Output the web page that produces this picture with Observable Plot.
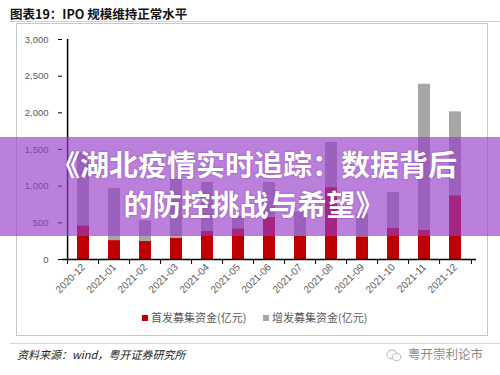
<!DOCTYPE html>
<html>
<head>
<meta charset="utf-8">
<script src="https://cdn.jsdelivr.net/npm/d3@7"></script>
<script src="https://cdn.jsdelivr.net/npm/@observablehq/plot@0.6"></script>
<style>
  html, body { margin: 0; padding: 0; background: #fff; }
  #page { position: relative; width: 500px; height: 375px; overflow: hidden; font-family: "Liberation Sans", Arial, "Noto Sans CJK SC", sans-serif; }
  #title { position: absolute; left: 10px; top: 5px; font-family: "Noto Sans CJK SC", sans-serif; font-weight: 700; font-size: 12.5px; color: #111; line-height: 18px; }
  #titleRule { position: absolute; left: 10px; top: 21px; width: 490px; height: 0; border-top: 1px solid #d0d0d0; }
  #box { position: absolute; left: 16px; top: 23px; width: 472px; height: 313px; border: 1px solid #c8c8c8; box-sizing: border-box; }
  #chart { position: absolute; left: 16px; top: 24px; }
  #legend { position: absolute; left: 0; top: 309px; width: 500px; font-family: "Noto Sans CJK SC", sans-serif; font-size: 11px; color: #595959; line-height: 16px; }
  .lg { position: absolute; top: 0; white-space: nowrap; }
  .sw { display: inline-block; width: 6px; height: 6px; margin-right: 3px; vertical-align: 1px; }
  #footRule { position: absolute; left: 10px; top: 343px; width: 490px; border-top: 1px solid #d6d6d6; }
  #source { position: absolute; left: 17px; top: 346px; font-family: "Noto Sans CJK SC", sans-serif; font-size: 11px; font-style: italic; color: #222; line-height: 16px; }
  #brand { position: absolute; left: 386px; top: 345px; font-family: "Noto Sans CJK SC", sans-serif; font-size: 12.5px; color: #8a8a8a; line-height: 18px; white-space: nowrap; }
  #brand svg { vertical-align: -3px; margin-right: 6px; }
  #overlay { position: absolute; left: 0; top: 137px; width: 500px; height: 99px; background: rgba(150, 60, 200, 0.65); }
  #overlayText { position: absolute; left: 4px; top: 143px; width: 500px; text-align: center; font-family: "Noto Sans CJK SC", sans-serif; font-weight: 700; font-size: 29px; line-height: 40px; color: #fff; text-shadow: 0 0 2px rgba(90, 20, 120, 0.5); }
</style>
</head>
<body>
<div id="page">
  <div id="title">图表19：IPO 规模维持正常水平</div>
  <div id="titleRule"></div>
  <div id="box"></div>
  <div id="chart"></div>
  <div id="legend"></div>
  <div id="footRule"></div>
  <div id="source">资料来源：wind，粤开证券研究所</div>
  <div id="brand"><svg width="16" height="13" viewBox="0 0 16 13"><ellipse cx="6" cy="5.5" rx="5.2" ry="4.3" fill="none" stroke="#b5b5b5" stroke-width="1"/><ellipse cx="10.5" cy="8" rx="4.3" ry="3.5" fill="#fff" stroke="#b5b5b5" stroke-width="1"/></svg>粤开崇利论市</div>
  <div id="overlay"></div>
  <div id="overlayText">《湖北疫情实时追踪：数据背后<br>的防控挑战与希望》</div>
</div>
<script>
// ---- data ----
const months = ["2020-12","2021-01","2021-02","2021-03","2021-04","2021-05","2021-06","2021-07","2021-08","2021-09","2021-10","2021-11","2021-12"];
const seriesNames = ["首发募集资金(亿元)", "增发募集资金(亿元)"];
const ipoValues = [460, 258, 245, 290, 385, 420, 575, 320, 980, 310, 430, 400, 870];
const spoValues = [1000, 712, 285, 810, 665, 170, 475, 330, 616, 310, 485, 1990, 1143];
const yTicks = [0, 500, 1000, 1500, 2000, 2500, 3000];

// ---- styles ----
const seriesColors = ["#c00000", "#a6a6a6"];
const W = 473, H = 290, mL = 46, mR = 13, mT = 15, mB = 55;
const step = (W - mL - mR) / months.length;

const rows = [
  ...months.map((m, i) => ({month: m, series: seriesNames[0], value: ipoValues[i]})),
  ...months.map((m, i) => ({month: m, series: seriesNames[1], value: spoValues[i]}))
];

const chart = Plot.plot({
  width: W, height: H,
  marginLeft: mL, marginRight: mR, marginTop: mT, marginBottom: mB,
  style: {background: "transparent", fontFamily: "'Liberation Sans', Arial, sans-serif"},
  x: {domain: months, paddingInner: 0.6, paddingOuter: 0.3, label: null},
  y: {domain: [0, 3000], label: null},
  color: {domain: seriesNames, range: seriesColors},
  marks: [
    Plot.barY(rows, {x: "month", y: "value", fill: "series"}),
    Plot.ruleY([0], {stroke: "#000", strokeWidth: 1.5}),
    Plot.ruleX([months[0]], {y1: 0, y2: 3000, dx: -step / 2, stroke: "#000", strokeWidth: 1.5}),
    Plot.axisY({ticks: yTicks, tickFormat: d3.format(","), tickSize: 4, tickPadding: 10, stroke: "#000", fill: "#595959", fontSize: 9.5, label: null}),
    Plot.axisX({tickSize: 5, tickFormat: () => "", dx: -step / 2, stroke: "#000", label: null}),
    Plot.axisX({ticks: [months[months.length - 1]], tickSize: 5, tickFormat: () => "", dx: step / 2, stroke: "#000", label: null}),
    Plot.axisX({tickSize: 0, tickPadding: 6, tickRotate: -45, fill: "#595959", fontSize: 10, label: null})
  ]
});
document.getElementById("chart").appendChild(chart);

// legend
const legend = document.getElementById("legend");
const legendX = [142, 263];
seriesNames.forEach((name, i) => {
  const el = document.createElement("div");
  el.className = "lg";
  el.style.left = legendX[i] + "px";
  el.innerHTML = `<span class="sw" style="background:${seriesColors[i]}"></span>${name}`;
  legend.appendChild(el);
});
</script>
</body>
</html>
